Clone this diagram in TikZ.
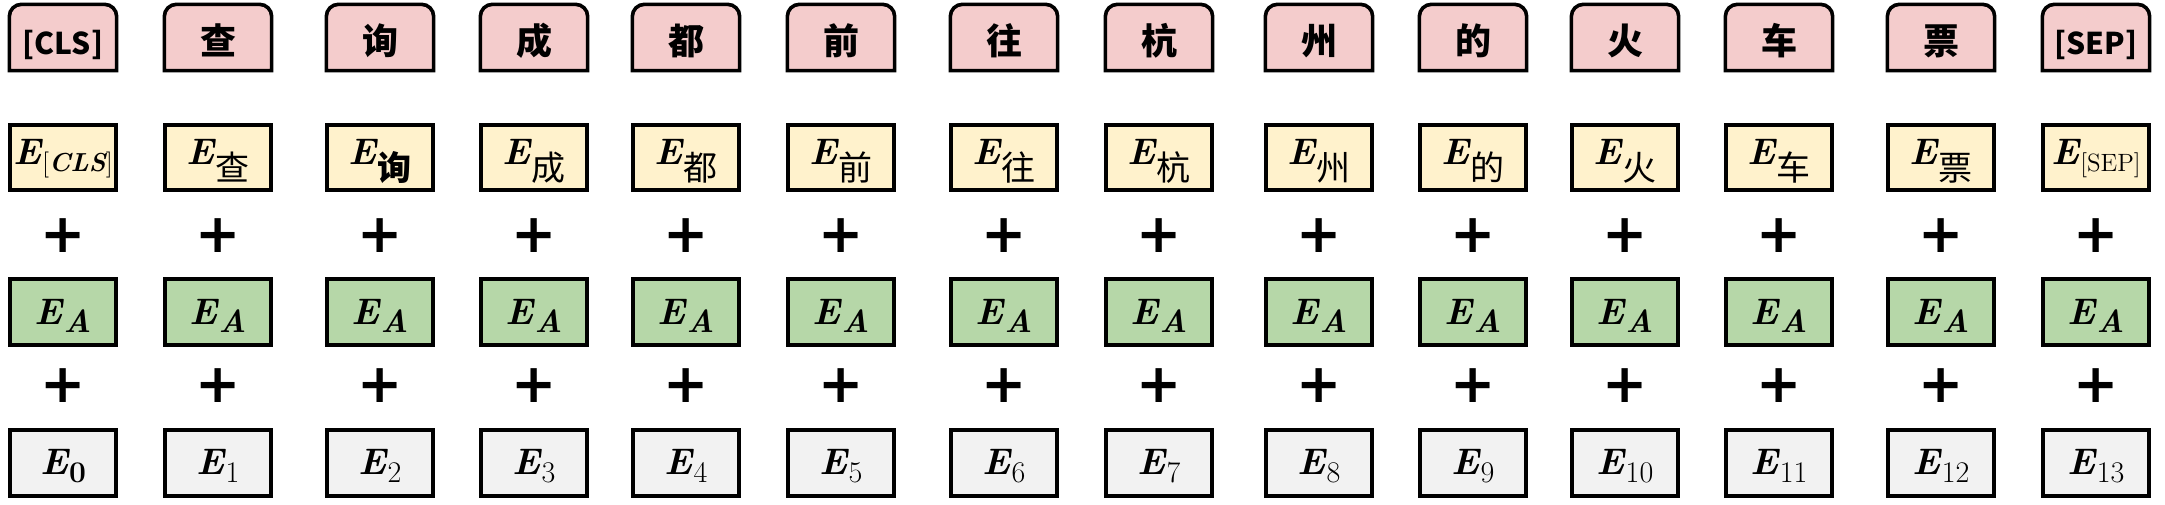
\documentclass[tikz,border=0pt]{standalone}
\usepackage{fontspec}
\newfontfamily\cjk{Noto Sans CJK SC}
\newfontfamily\djv{DejaVu Sans}
\usetikzlibrary{backgrounds}
\definecolor{tokpink}{HTML}{F4CCCC}
\definecolor{embyellow}{HTML}{FFF2CC}
\definecolor{embgreen}{HTML}{B6D7A8}
\definecolor{embgray}{HTML}{F2F2F2}
\newcommand\EE{{\fontsize{18.5}{20}\selectfont\bfseries\itshape E}}
\newcommand\cjksub[1]{\EE\kern0.5pt\raisebox{-8pt}{\fontsize{17}{17}\selectfont\cjk #1}}
\newcommand\cjksubb[1]{\EE\kern0.5pt\raisebox{-8pt}{\fontsize{17}{17}\selectfont\cjk\bfseries #1}}
\newcommand\numsub[1]{\EE\kern0.5pt\raisebox{-4pt}{\fontsize{15}{15}\selectfont #1}}
\tikzset{
  tok/.style={minimum width=53.25pt, minimum height=32.75pt, inner sep=0pt,
    text height=18pt, text depth=1pt, font=\fontsize{18}{18}\selectfont\cjk\bfseries},
  tokshape/.style={line width=1.8pt, fill=tokpink},
  ebox/.style={draw, line width=1.8pt, minimum width=53.25pt, minimum height=32.75pt, inner sep=0pt},
  yel/.style={ebox, fill=embyellow, text height=12pt, text depth=5pt},
  grn/.style={ebox, fill=embgreen, text height=14pt, text depth=2pt},
  gry/.style={ebox, fill=embgray, text height=13pt, text depth=2pt},
  plus/.style={inner sep=0pt, font=\djv\bfseries\fontsize{27}{27}\selectfont}
}
\newcommand\embcol[5]{%
  \node[tok] (t#1) at (#2,37.5) {#3};
  \begin{scope}[on background layer]
    \draw[tokshape] (t#1.south west) [rounded corners=6pt] -- (t#1.north west) -- (t#1.north east) [sharp corners] -- (t#1.south east) -- cycle;
  \end{scope}
  \node[yel] (y#1) at (#2,157.5) {#4};
  \node[plus] (pa#1) at (#2,236) {+};
  \node[grn] (g#1) at (#2,312) {\EE\kern0.5pt\raisebox{-4pt}{\fontsize{16}{16}\selectfont\bfseries\itshape A}};
  \node[plus] (pb#1) at (#2,386) {+};
  \node[gry] (e#1) at (#2,463) {#5};
}
\begin{document}
\begin{tikzpicture}[x=0.5pt,y=-0.5pt]
\useasboundingbox (0,0) rectangle (2165,504);
\embcol{1}{63}{\fontsize{15}{15}\selectfont [CLS]}{\EE\kern0.5pt\raisebox{-3.5pt}{\fontsize{13}{13}\selectfont[{\bfseries\itshape CLS}]}}{\EE\kern0.5pt\raisebox{-4pt}{\fontsize{15}{15}\selectfont\bfseries 0}}
\embcol{2}{218}{查}{\cjksub{查}}{\numsub{1}}
\embcol{3}{380}{询}{\cjksubb{询}}{\numsub{2}}
\embcol{4}{534}{成}{\cjksub{成}}{\numsub{3}}
\embcol{5}{686}{都}{\cjksub{都}}{\numsub{4}}
\embcol{6}{841}{前}{\cjksub{前}}{\numsub{5}}
\embcol{7}{1004}{往}{\cjksub{往}}{\numsub{6}}
\embcol{8}{1159}{杭}{\cjksub{杭}}{\numsub{7}}
\embcol{9}{1319}{州}{\cjksub{州}}{\numsub{8}}
\embcol{10}{1473}{的}{\cjksub{的}}{\numsub{9}}
\embcol{11}{1625}{火}{\cjksub{火}}{\numsub{10}}
\embcol{12}{1779}{车}{\cjksub{车}}{\numsub{11}}
\embcol{13}{1941}{票}{\cjksub{票}}{\numsub{12}}
\embcol{14}{2096}{\fontsize{15}{15}\selectfont [SEP]}{\EE\kern0.5pt\raisebox{-3.5pt}{\fontsize{12.5}{12.5}\selectfont[SEP]}}{\numsub{13}}
\end{tikzpicture}
\end{document}
